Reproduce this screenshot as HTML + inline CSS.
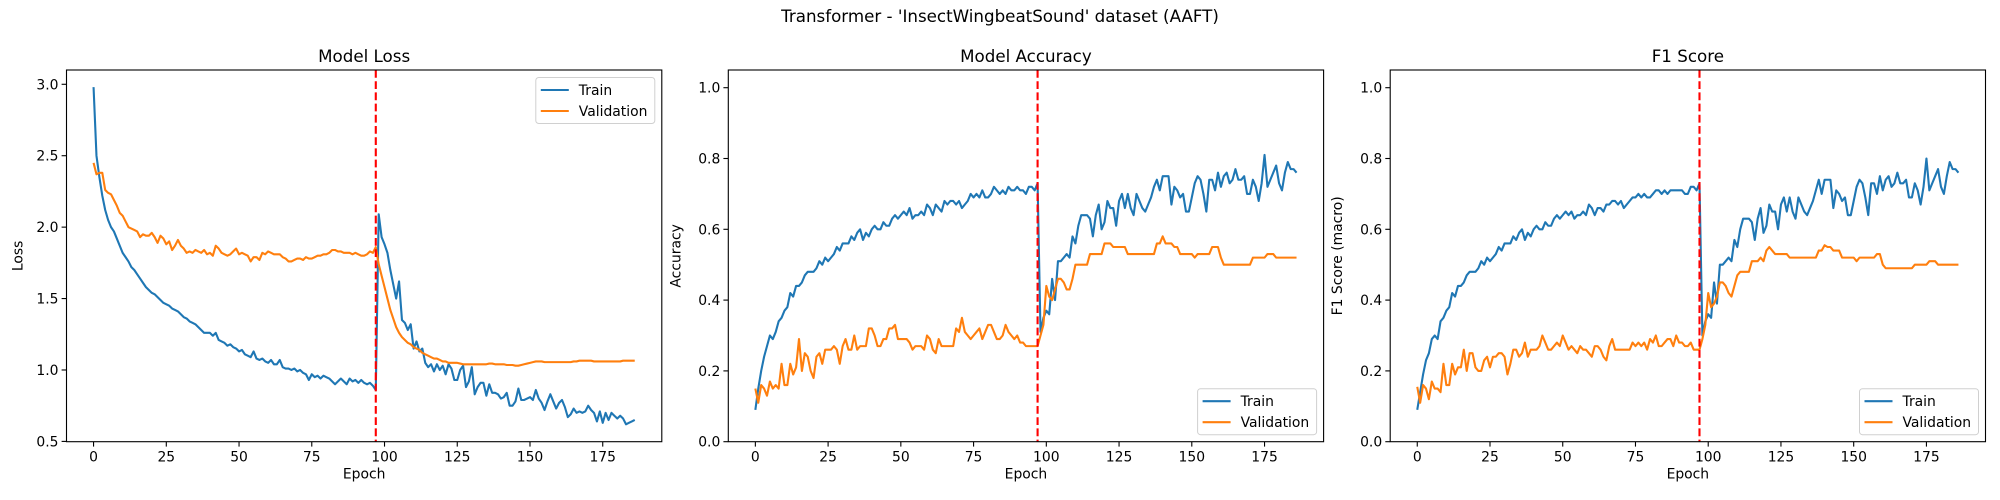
<!DOCTYPE html>
<html><head><meta charset="utf-8">
<style>
html,body{margin:0;padding:0;background:#fff;}
svg{display:block;font-family:"DejaVu Sans","Liberation Sans",sans-serif;}
</style></head>
<body>
<svg id="fig" width="2000" height="500" viewBox="0 0 2000 500" xmlns="http://www.w3.org/2000/svg">
<rect width="2000" height="500" fill="#fff"/>
<text x="1000" y="22" text-anchor="middle" font-size="16.7">Transformer - 'InsectWingbeatSound' dataset (AAFT)</text>
</svg>
<script>
const lossTrain=[2.98,2.50,2.35,2.22,2.12,2.05,2.00,1.97,1.92,1.87,
1.82,1.79,1.76,1.72,1.70,1.67,1.64,1.61,1.58,1.56,
1.54,1.53,1.51,1.49,1.47,1.46,1.45,1.43,1.42,1.41,
1.39,1.37,1.36,1.34,1.33,1.32,1.30,1.28,1.26,1.26,
1.26,1.24,1.26,1.21,1.20,1.19,1.17,1.18,1.16,1.15,
1.13,1.14,1.11,1.10,1.09,1.13,1.08,1.07,1.08,1.06,
1.05,1.07,1.04,1.04,1.07,1.02,1.01,1.01,1.00,1.01,
0.99,1.00,0.98,0.97,0.93,0.97,0.95,0.96,0.94,0.96,
0.95,0.94,0.92,0.90,0.92,0.94,0.92,0.90,0.94,0.92,
0.93,0.91,0.93,0.91,0.90,0.91,0.89,0.86,2.09,1.93,
1.88,1.82,1.70,1.60,1.50,1.62,1.35,1.33,1.28,1.32,
1.15,1.20,1.13,1.15,1.05,1.02,1.04,0.99,1.04,1.00,
1.03,0.97,1.04,1.01,0.93,0.93,1.00,1.03,0.88,0.92,
1.02,0.83,0.88,0.91,0.91,0.82,0.90,0.84,0.84,0.83,
0.80,0.81,0.84,0.75,0.75,0.78,0.87,0.79,0.79,0.80,
0.81,0.79,0.86,0.80,0.77,0.72,0.78,0.83,0.78,0.73,
0.77,0.79,0.74,0.67,0.69,0.73,0.70,0.71,0.70,0.71,
0.75,0.72,0.70,0.64,0.71,0.63,0.70,0.65,0.70,0.68,
0.66,0.68,0.66,0.62,0.63,0.64,0.65];
const lossVal=[2.45,2.37,2.38,2.38,2.26,2.24,2.23,2.19,2.15,2.10,
2.08,2.04,2.00,1.99,1.98,1.97,1.93,1.95,1.94,1.94,
1.96,1.93,1.89,1.94,1.92,1.88,1.90,1.84,1.87,1.91,
1.87,1.85,1.82,1.83,1.82,1.84,1.83,1.82,1.84,1.81,
1.82,1.80,1.87,1.85,1.82,1.81,1.80,1.81,1.83,1.85,
1.81,1.82,1.81,1.80,1.76,1.79,1.79,1.77,1.82,1.81,
1.83,1.82,1.81,1.81,1.81,1.79,1.78,1.76,1.76,1.77,
1.78,1.78,1.77,1.79,1.78,1.78,1.79,1.80,1.80,1.81,
1.81,1.82,1.84,1.84,1.83,1.83,1.82,1.82,1.82,1.81,
1.82,1.81,1.80,1.80,1.81,1.83,1.82,1.86,1.74,1.66,
1.58,1.50,1.42,1.36,1.30,1.26,1.23,1.21,1.19,1.18,
1.16,1.15,1.14,1.12,1.11,1.10,1.09,1.08,1.08,1.07,
1.06,1.06,1.05,1.05,1.05,1.05,1.045,1.04,1.04,1.04,
1.04,1.04,1.04,1.04,1.04,1.04,1.045,1.045,1.04,1.04,
1.04,1.04,1.035,1.035,1.035,1.03,1.03,1.035,1.04,1.045,
1.05,1.055,1.06,1.06,1.06,1.055,1.055,1.055,1.055,1.055,
1.055,1.055,1.055,1.055,1.055,1.06,1.06,1.065,1.065,1.065,
1.065,1.065,1.06,1.06,1.06,1.06,1.06,1.06,1.06,1.06,
1.06,1.06,1.065,1.065,1.065,1.065,1.065];
const accTrain=[0.09,0.15,0.20,0.24,0.27,0.30,0.29,0.31,0.34,0.35,
0.37,0.38,0.42,0.41,0.44,0.44,0.45,0.47,0.48,0.48,
0.48,0.49,0.51,0.50,0.52,0.51,0.52,0.53,0.55,0.54,
0.56,0.56,0.56,0.58,0.57,0.59,0.60,0.57,0.59,0.58,
0.60,0.61,0.60,0.60,0.62,0.61,0.61,0.63,0.64,0.63,
0.64,0.65,0.64,0.66,0.63,0.64,0.64,0.65,0.64,0.67,
0.66,0.64,0.67,0.66,0.65,0.68,0.67,0.68,0.68,0.67,
0.68,0.66,0.67,0.68,0.70,0.69,0.70,0.69,0.71,0.69,
0.69,0.70,0.72,0.71,0.70,0.71,0.70,0.72,0.71,0.71,
0.72,0.71,0.71,0.70,0.72,0.72,0.71,0.73,0.31,0.35,
0.37,0.36,0.46,0.40,0.51,0.51,0.52,0.53,0.52,0.58,
0.56,0.61,0.64,0.64,0.64,0.63,0.58,0.64,0.67,0.60,
0.62,0.68,0.66,0.66,0.61,0.68,0.70,0.66,0.70,0.66,
0.64,0.70,0.68,0.66,0.65,0.67,0.69,0.72,0.74,0.71,
0.75,0.75,0.75,0.67,0.72,0.71,0.69,0.70,0.65,0.65,
0.69,0.73,0.75,0.74,0.70,0.65,0.74,0.74,0.71,0.76,
0.72,0.75,0.76,0.73,0.74,0.77,0.74,0.74,0.75,0.70,
0.70,0.74,0.72,0.68,0.73,0.81,0.72,0.74,0.76,0.78,
0.73,0.71,0.76,0.79,0.77,0.77,0.76];
const accVal=[0.15,0.11,0.16,0.15,0.13,0.17,0.15,0.16,0.15,0.22,
0.16,0.16,0.22,0.19,0.21,0.29,0.20,0.25,0.24,0.20,
0.18,0.24,0.25,0.22,0.26,0.26,0.26,0.27,0.26,0.22,
0.27,0.29,0.26,0.26,0.30,0.26,0.27,0.27,0.27,0.32,
0.32,0.30,0.27,0.27,0.29,0.29,0.32,0.32,0.33,0.29,
0.29,0.29,0.29,0.28,0.26,0.27,0.27,0.27,0.26,0.30,
0.29,0.26,0.25,0.29,0.27,0.27,0.27,0.27,0.27,0.32,
0.31,0.35,0.31,0.30,0.29,0.30,0.31,0.32,0.29,0.31,
0.33,0.33,0.31,0.29,0.29,0.30,0.33,0.31,0.30,0.29,
0.30,0.28,0.28,0.27,0.27,0.27,0.27,0.27,0.30,0.33,
0.44,0.41,0.40,0.43,0.46,0.46,0.45,0.43,0.43,0.46,
0.50,0.50,0.50,0.50,0.50,0.53,0.53,0.53,0.53,0.53,
0.56,0.56,0.56,0.55,0.55,0.55,0.55,0.55,0.53,0.53,
0.53,0.53,0.53,0.53,0.53,0.53,0.53,0.53,0.56,0.56,
0.58,0.56,0.56,0.56,0.55,0.55,0.53,0.53,0.53,0.53,
0.53,0.52,0.53,0.53,0.53,0.53,0.53,0.55,0.55,0.55,
0.52,0.50,0.50,0.50,0.50,0.50,0.50,0.50,0.50,0.50,
0.50,0.52,0.52,0.52,0.52,0.52,0.53,0.53,0.53,0.52,
0.52,0.52,0.52,0.52,0.52,0.52,0.52];
const f1Train=[0.09,0.14,0.19,0.23,0.25,0.29,0.30,0.29,0.34,0.35,
0.37,0.38,0.42,0.41,0.44,0.44,0.45,0.47,0.48,0.48,
0.48,0.49,0.51,0.50,0.52,0.51,0.52,0.53,0.55,0.54,
0.56,0.56,0.56,0.58,0.57,0.59,0.60,0.57,0.59,0.58,
0.60,0.61,0.60,0.60,0.62,0.61,0.61,0.63,0.64,0.63,
0.64,0.65,0.64,0.65,0.63,0.64,0.64,0.65,0.64,0.67,
0.66,0.64,0.66,0.66,0.65,0.67,0.67,0.68,0.68,0.67,
0.68,0.66,0.67,0.68,0.69,0.69,0.70,0.69,0.70,0.69,
0.69,0.70,0.71,0.71,0.70,0.71,0.70,0.71,0.71,0.71,
0.71,0.71,0.70,0.70,0.72,0.72,0.71,0.73,0.30,0.34,
0.36,0.35,0.45,0.39,0.50,0.50,0.51,0.52,0.51,0.57,
0.55,0.60,0.63,0.63,0.63,0.62,0.57,0.63,0.66,0.59,
0.61,0.67,0.65,0.65,0.60,0.67,0.69,0.65,0.69,0.65,
0.63,0.69,0.67,0.65,0.64,0.66,0.68,0.71,0.74,0.70,
0.74,0.74,0.74,0.66,0.71,0.70,0.68,0.69,0.64,0.64,
0.68,0.72,0.74,0.73,0.69,0.64,0.73,0.73,0.70,0.75,
0.71,0.74,0.75,0.72,0.73,0.76,0.73,0.73,0.74,0.69,
0.69,0.73,0.71,0.67,0.72,0.80,0.71,0.73,0.75,0.77,
0.72,0.70,0.75,0.79,0.77,0.77,0.76];
const f1Val=[0.155,0.11,0.16,0.15,0.12,0.17,0.15,0.15,0.14,0.22,
0.16,0.16,0.22,0.19,0.21,0.21,0.26,0.20,0.25,0.25,
0.21,0.20,0.20,0.23,0.24,0.21,0.24,0.24,0.25,0.25,
0.24,0.19,0.22,0.26,0.26,0.24,0.25,0.28,0.24,0.26,
0.26,0.26,0.27,0.30,0.28,0.26,0.26,0.27,0.28,0.27,
0.30,0.28,0.26,0.27,0.26,0.25,0.27,0.26,0.26,0.25,
0.24,0.27,0.27,0.26,0.24,0.23,0.27,0.29,0.26,0.26,
0.26,0.26,0.26,0.26,0.28,0.27,0.28,0.27,0.28,0.26,
0.29,0.28,0.30,0.27,0.27,0.28,0.29,0.29,0.27,0.30,
0.28,0.28,0.27,0.27,0.28,0.26,0.26,0.26,0.29,0.33,
0.42,0.38,0.39,0.41,0.45,0.45,0.44,0.42,0.41,0.44,
0.47,0.48,0.48,0.48,0.48,0.51,0.51,0.51,0.52,0.51,
0.54,0.55,0.54,0.53,0.53,0.53,0.53,0.53,0.52,0.52,
0.52,0.52,0.52,0.52,0.52,0.52,0.52,0.52,0.54,0.54,
0.555,0.55,0.55,0.54,0.54,0.54,0.52,0.52,0.52,0.52,
0.52,0.51,0.52,0.52,0.52,0.52,0.52,0.52,0.53,0.53,
0.50,0.49,0.49,0.49,0.49,0.49,0.49,0.49,0.49,0.49,
0.49,0.50,0.50,0.50,0.50,0.50,0.51,0.51,0.51,0.50,
0.50,0.50,0.50,0.50,0.50,0.50,0.50];
const xTicks=[0,25,50,75,100,125,150,175];
const lossTicks=[0.5,1.0,1.5,2.0,2.5,3.0];
const accTicks=[0.0,0.2,0.4,0.6,0.8,1.0];
const switchEpoch=[97];

const NS='http://www.w3.org/2000/svg';
const fig=document.getElementById('fig');
function mk(tag,attrs,parent){const e=document.createElementNS(NS,tag);for(const k in attrs)e.setAttribute(k,attrs[k]);(parent||fig).appendChild(e);return e;}

const panels=[
 {key:'loss',left:66.5,title:'Model Loss',ylabel:'Loss',tr:lossTrain,va:lossVal,ymin:0.498,ymax:3.1,ticks:lossTicks,dec:1,legend:'upper'},
 {key:'accuracy',left:728.3,title:'Model Accuracy',ylabel:'Accuracy',tr:accTrain,va:accVal,ymin:0,ymax:1.05,ticks:accTicks,dec:1,legend:'lower'},
 {key:'f1',left:1390.2,title:'F1 Score',ylabel:'F1 Score (macro)',tr:f1Train,va:f1Val,ymin:0,ymax:1.05,ticks:accTicks,dec:1,legend:'lower'}
];
const W=595.3,TOP=70,BOT=441.7;
panels.forEach(p=>{
 const g=mk('g',{});
 
 
 const n=p.tr.length-1;
 const x0=-n*0.05,x1=n*1.05;
 const sx=v=>p.left+(v-x0)/(x1-x0)*W;
 const sy=v=>BOT-(v-p.ymin)/(p.ymax-p.ymin)*(BOT-TOP);
 const t=mk('text',{x:p.left+W/2,y:62,'text-anchor':'middle','font-size':16.7},g);
 t.textContent=p.title;
 
 
 xTicks.forEach(v=>{
  const X=sx(v);
  mk('line',{x1:X,x2:X,y1:BOT,y2:BOT+4.9,stroke:'#000','stroke-width':1.1},g);
  const l=mk('text',{x:X,y:BOT+20,'text-anchor':'middle','font-size':13.9},g);
  l.textContent=v;
  
  
 });
 p.ticks.forEach(v=>{
  const Y=sy(v);
  mk('line',{x1:p.left-4.9,x2:p.left,y1:Y,y2:Y,stroke:'#000','stroke-width':1.1},g);
  const l=mk('text',{x:p.left-8,y:Y+5,'text-anchor':'end','font-size':13.9},g);
  l.textContent=v.toFixed(p.dec);
  
  
 });
 const xl=mk('text',{x:p.left+W/2,y:BOT+37,'text-anchor':'middle','font-size':13.9},g);
 xl.textContent='Epoch';
 
 
 const yx=p.left-(p.key==='loss'?44:48), ym=(TOP+BOT)/2;
 const yl=mk('text',{x:yx,y:ym,'text-anchor':'middle','font-size':13.9,transform:'rotate(-90 '+yx+' '+ym+')'},g);
 yl.textContent=p.ylabel;
 
 
 const clipId='clip-'+p.key;
 const cp=mk('clipPath',{id:clipId},g);
 mk('rect',{x:p.left,y:TOP,width:W,height:BOT-TOP},cp);
 [[p.tr,'#1f77b4','train'],[p.va,'#ff7f0e','validation']].forEach(([arr,col,nm])=>{
  const d=arr.map((v,i)=>(i?'L':'M')+sx(i).toFixed(2)+' '+sy(v).toFixed(2)).join(' ');
  const pl=mk('path',{d:d,fill:'none',stroke:col,'stroke-width':2.1,'stroke-linejoin':'round','clip-path':'url(#'+clipId+')'},g);
  
  
 });
 switchEpoch.forEach(e=>{
  const vl=mk('line',{x1:sx(e),x2:sx(e),y1:TOP,y2:BOT,stroke:'#ff0000','stroke-width':2.1,'stroke-dasharray':'7.8 3.4'},g);
  
  
 });
 const fr=mk('rect',{x:p.left,y:TOP,width:W,height:BOT-TOP,fill:'none',stroke:'#000','stroke-width':1.1},g);
 
 
 const lw=119,lh=46;
 const lx=p.left+W-lw-7, ly=p.legend==='upper'?TOP+7.5:BOT-lh-7;
 const lg=mk('g',{},g);
 
 
 mk('rect',{x:lx,y:ly,width:lw,height:lh,rx:3,fill:'#fff','fill-opacity':0.8,stroke:'#d0d0d0','stroke-width':1},lg);
 [['Train','#1f77b4'],['Validation','#ff7f0e']].forEach(([lab,col],i)=>{
  const yy=ly+12.5+i*21;
  mk('line',{x1:lx+5,x2:lx+33,y1:yy,y2:yy,stroke:col,'stroke-width':2.1},lg);
  const tt=mk('text',{x:lx+43,y:yy+5,'font-size':13.9},lg);
  tt.textContent=lab;
  
  
 });
});
</script>
</body></html>
